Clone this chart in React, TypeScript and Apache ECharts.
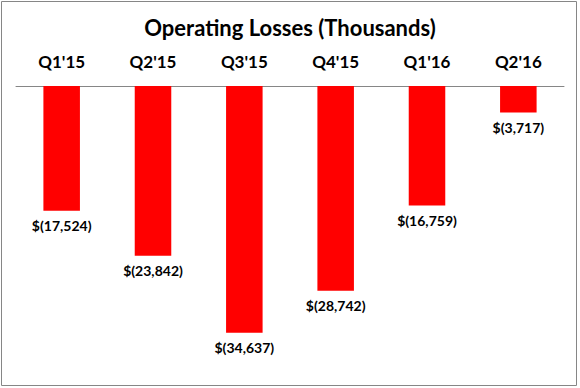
import React, { useEffect, useRef } from "react";
import * as echarts from "echarts";

const categories = ["Q1'15", "Q2'15", "Q3'15", "Q4'15", "Q1'16", "Q2'16"];
const losses = [-17524, -23842, -34637, -28742, -16759, -3717];
const titleText = "Operating Losses (Thousands)";

function fmt(v: number): string {
  const a = Math.abs(v).toLocaleString("en-US");
  return v < 0 ? `$(${a})` : `$${a}`;
}

export default function App() {
  const ref = useRef<HTMLDivElement>(null);
  useEffect(() => {
    if (!ref.current) return;
    const chart = echarts.init(ref.current, undefined, { renderer: "svg" });
    const font = "Lato, 'Open Sans', sans-serif";
    chart.setOption({
      animation: false,
      backgroundColor: "#ffffff",
      title: {
        text: titleText,
        left: "center",
        top: 11,
        textStyle: { fontFamily: font, fontWeight: "bold", fontSize: 22, color: "#000" },
      },
      graphic: [
        {
          type: "rect",
          shape: { x: 1.5, y: 1.5, width: 575, height: 384 },
          style: { fill: "none", stroke: "#868686", lineWidth: 1 },
          silent: true,
        },
      ],
      grid: { left: 16, right: 16, top: 86, height: 285 },
      xAxis: {
        type: "category",
        position: "top",
        data: categories,
        axisLine: { lineStyle: { color: "#868686", width: 1 } },
        axisTick: { show: false },
        axisLabel: { fontFamily: font, fontWeight: "bold", fontSize: 17, color: "#000", margin: 16 },
      },
      yAxis: {
        type: "value",
        min: -40000,
        max: 0,
        show: false,
        splitLine: { show: false },
      },
      series: [
        {
          type: "bar",
          data: losses,
          barCategoryGap: "60%",
          itemStyle: { color: "#ff0000" },
          label: {
            show: true,
            position: "bottom",
            distance: 8,
            formatter: (p: any) => fmt(p.value),
            fontFamily: font,
            fontWeight: "bold",
            fontSize: 14,
            color: "#000",
          },
        },
      ],
    });
    return () => chart.dispose();
  }, []);
  return (
    <div
      ref={ref}
      style={{ position: "fixed", left: 0, top: 0, width: 580, height: 388 }}
    />
  );
}
